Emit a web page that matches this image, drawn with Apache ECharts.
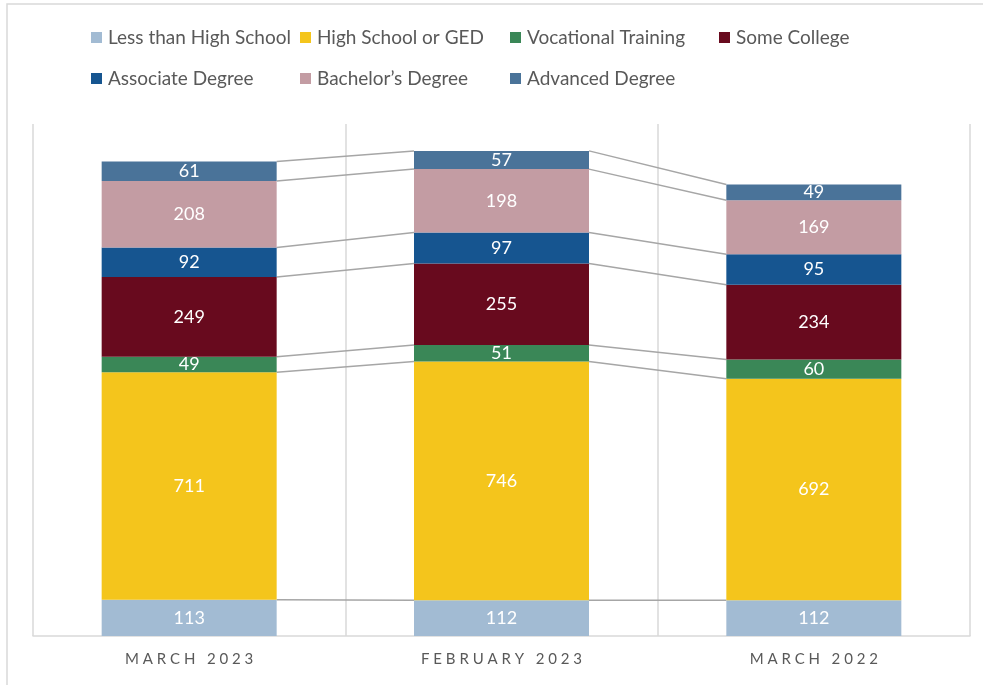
<!DOCTYPE html>
<html>
<head>
<meta charset="utf-8">
<script src="https://cdn.jsdelivr.net/npm/echarts@6/dist/echarts.min.js"></script>
<style>
  html, body { margin: 0; padding: 0; background: #fff; }
  #chart { width: 983px; height: 685px; }
</style>
</head>
<body>
<div id="chart"></div>
<script>
// categories and series values (bottom of the stack first)
const categories = ['MARCH 2023', 'FEBRUARY 2023', 'MARCH 2022']
const seriesNames = ['Less than High School', 'High School or GED', 'Vocational Training', 'Some College', 'Associate Degree', 'Bachelor\u2019s Degree', 'Advanced Degree']
const lessThanHighSchool = [113, 112, 112]
const highSchoolOrGed = [711, 746, 692]
const vocationalTraining = [49, 51, 60]
const someCollege = [249, 255, 234]
const associateDegree = [92, 97, 95]
const bachelorsDegree = [208, 198, 169]
const advancedDegree = [61, 57, 49]

const seriesValues = [lessThanHighSchool, highSchoolOrGed, vocationalTraining, someCollege, associateDegree, bachelorsDegree, advancedDegree]
const colors = ['#a2bbd3', '#f4c51c', '#3a8757', '#680a1e', '#165590', '#c39ca3', '#4a7399']

const BAR_WIDTH = 175

var myChart = echarts.init(document.getElementById('chart'))

// running totals: top of each segment, used for the connector lines
let running = categories.map(() => 0)
let connectorData = []
seriesValues.forEach(vals => {
  running = running.map((r, i) => r + vals[i])
  for (let i = 0; i < categories.length - 1; i++) {
    connectorData.push([i, running[i], running[i + 1]])
  }
})

// legend laid out in fixed columns like the original
const legendCols = [91, 300, 510, 719]
const legendRows = [28, 69]
let legends = seriesNames.map((name, idx) => ({
  data: [name],
  left: legendCols[idx < 4 ? idx : idx - 4],
  top: legendRows[idx < 4 ? 0 : 1],
  itemWidth: 11,
  itemHeight: 11,
  icon: 'rect',
  padding: 0,
  textStyle: {
    color: '#595959',
    fontSize: 19,
    fontFamily: 'Lato',
    padding: [0, 0, 0, 1]
  }
}))

let series = seriesNames.map((name, idx) => ({
  name: name,
  type: 'bar',
  stack: 'total',
  barWidth: BAR_WIDTH,
  data: seriesValues[idx],
  itemStyle: { color: colors[idx] },
  label: {
    show: true,
    position: 'inside',
    color: '#ffffff',
    fontSize: 18,
    fontFamily: 'Lato'
  },
  emphasis: { disabled: true }
}))

series.push({
  type: 'custom',
  name: 'connectors',
  silent: true,
  z: 1,
  data: connectorData,
  renderItem: function (params, api) {
    let p1 = api.coord([api.value(0), api.value(1)])
    let p2 = api.coord([api.value(0) + 1, api.value(2)])
    return {
      type: 'line',
      shape: { x1: p1[0] + BAR_WIDTH / 2, y1: p1[1], x2: p2[0] - BAR_WIDTH / 2, y2: p2[1] },
      style: { stroke: '#a6a6a6', lineWidth: 1.5 }
    }
  }
})

let option = {
  animation: false,
  backgroundColor: '#ffffff',
  legend: legends,
  grid: { left: 33, right: 13, top: 124, bottom: 49 },
  xAxis: {
    type: 'category',
    data: categories,
    axisLine: { lineStyle: { color: '#d9d9d9', width: 1.5 } },
    axisTick: { show: false },
    splitLine: { show: true, lineStyle: { color: '#d9d9d9', width: 1.5 } },
    axisLabel: {
      color: '#595959',
      fontSize: 15,
      fontFamily: 'Lato',
      margin: 16,
      formatter: v => v.split(' ').map(w => w.split('').join(' ')).join('   ')
    }
  },
  yAxis: {
    type: 'value',
    min: 0,
    max: 1600,
    show: false,
    splitLine: { show: false }
  },
  graphic: [{
    type: 'rect',
    shape: { x: 7, y: 4, width: 1000, height: 1000 },
    style: { fill: null, stroke: '#d9d9d9', lineWidth: 1.5 },
    silent: true
  }],
  series: series
}

myChart.setOption(option)
</script>
</body>
</html>
